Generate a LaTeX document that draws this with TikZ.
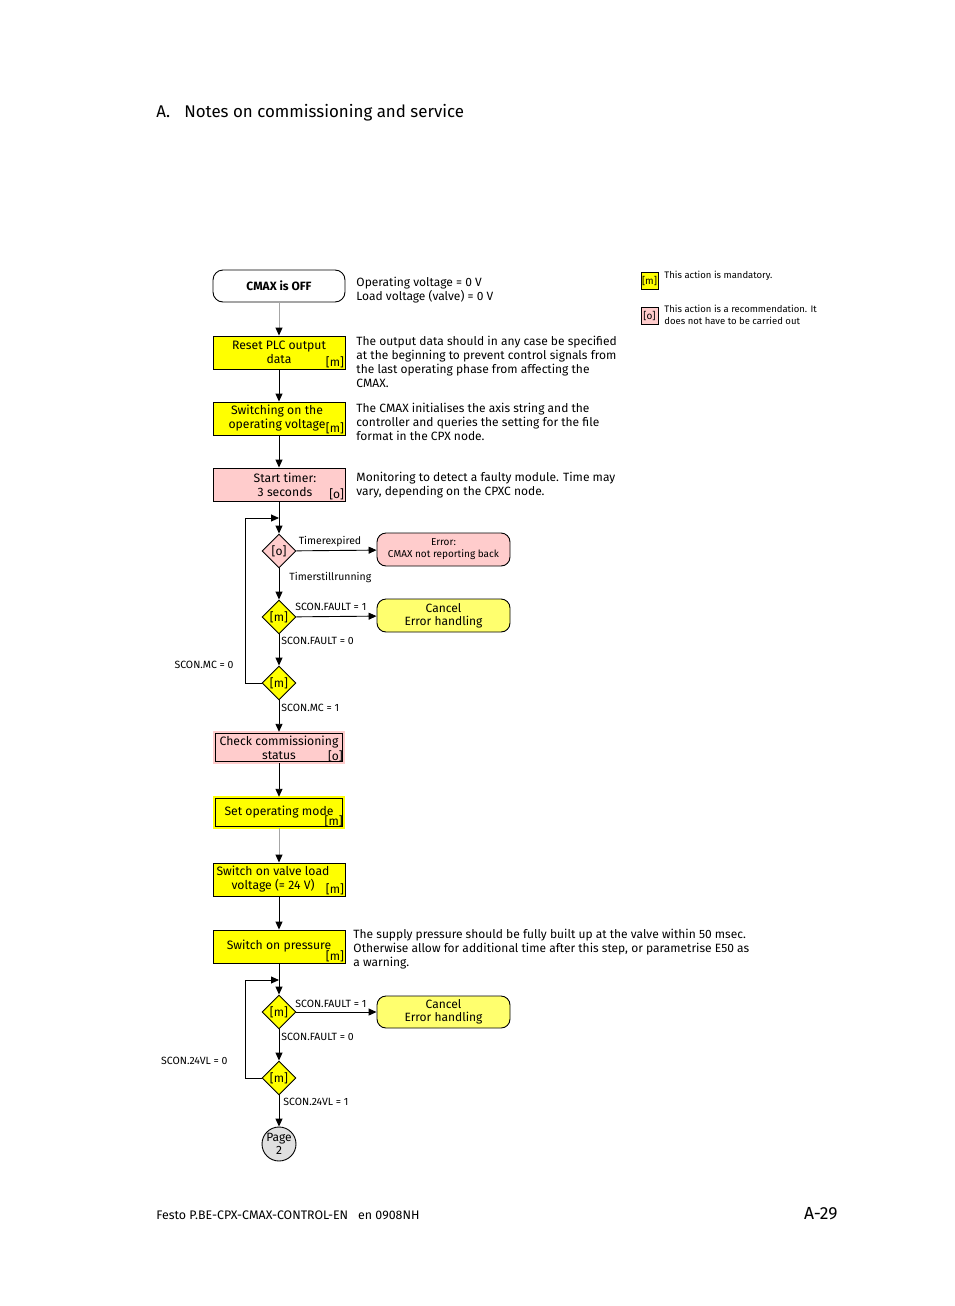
\documentclass[tikz,border=0pt]{standalone}
\usepackage{fontspec}
\setmainfont{Fira Sans}
\usepackage{xcolor}
\usetikzlibrary{arrows.meta,positioning,shapes.geometric}

\definecolor{mandyellow}{RGB}{255,255,0}
\definecolor{recpink}{RGB}{255,204,204}
\definecolor{endyellow}{RGB}{255,255,110}
\definecolor{pagegrey}{RGB}{224,224,224}

\begin{document}
\begin{tikzpicture}[
  x=1pt, y=-1pt, line width=0.9pt,
  stepnode/.style={rectangle, draw, minimum width=132pt, minimum height=33pt, inner sep=1pt, align=center, font=\fontsize{12.2}{14}\selectfont},
  tagnode/.style={anchor=south east, inner sep=1pt, font=\fontsize{12}{14}\selectfont},
  mandnode/.style={stepnode, fill=mandyellow, label={[tagnode]south east:{[m]}}},
  recnode/.style={stepnode, fill=recpink, label={[tagnode]south east:{[o]}}},
  dblnode/.style={double distance=1.6pt, minimum width=129.5pt, minimum height=30.5pt},
  decnode/.style={diamond, draw, minimum width=34pt, minimum height=34pt, inner sep=0pt, font=\fontsize{12}{14}\selectfont},
  endnode/.style={rectangle, rounded corners=9pt, draw, minimum width=133pt, minimum height=33pt, inner sep=1pt, align=center},
  notenode/.style={anchor=north west, align=left, inner sep=0pt, font=\fontsize{12}{14}\selectfont},
  condnode/.style={inner sep=1pt, font=\fontsize{10.5}{12}\selectfont},
  legnode/.style={anchor=north west, align=left, inner sep=0pt, font=\fontsize{9.5}{12}\selectfont},
  arrow/.style={-{Triangle[length=8pt,width=7pt]}},
  greyarrow/.style={draw=black!35, -{Triangle[length=8pt,width=7pt,color=black]}}
]
\useasboundingbox (0,0) rectangle (954,1306);

% header
\node[anchor=west, inner sep=0pt, font=\fontsize{16.9}{20}\selectfont] (title) at (156,113) {A.\hspace{14pt}Notes on commissioning and service};

% legend
\node[draw, fill=mandyellow, minimum size=17pt, inner sep=0pt, line width=0.7pt, font=\fontsize{10}{12}\selectfont] (legm) at (649.5,281) {[m]};
\node[legnode] (legmtxt) at (664,271) {This action is mandatory.};
\node[draw, fill=recpink, minimum size=17pt, inner sep=0pt, line width=0.7pt, font=\fontsize{10}{12}\selectfont] (lego) at (649.5,315.5) {[o]};
\node[legnode] (legotxt) at (664,305) {This action is a recommendation. It\\does not have to be carried out};

% steps
\node[stepnode, rounded corners=10pt, minimum height=32pt, font=\fontsize{12}{14}\selectfont\bfseries] (off) at (279,286) {CMAX is OFF};
\node[mandnode] (reset) at (279,352.5) {Reset PLC output\\data};
\node[mandnode] (opvolt) at (279,418.5) {Switching on the\kern4pt\\operating voltage\kern4pt};
\node[recnode] (timer) at (279,484.5) {\kern12pt Start timer:\\\kern12pt 3 seconds};

% notes
\node[notenode] (noteoff) at (356,277) {Operating voltage = 0 V\\Load voltage (valve) = 0 V};
\node[notenode] (notereset) at (356,336) {The output data should in any case be specified\\at the beginning to prevent control signals from\\the last operating phase from affecting the\\CMAX.};
\node[notenode] (noteopvolt) at (356,403) {The CMAX initialises the axis string and the\\controller and queries the setting for the file\\format in the CPX node.};
\node[notenode] (notetimer) at (356,472) {Monitoring to detect a faulty module. Time may\\vary, depending on the CPXC node.};

% first loop
\node[decnode, fill=recpink] (dtimer) at (279,551) {[o]};
\node[decnode, fill=mandyellow] (dfault) at (279,617) {[m]};
\node[decnode, fill=mandyellow] (dmc) at (279,683) {[m]};
\node[endnode, fill=recpink, font=\fontsize{10}{12}\selectfont] (errnode) at (443.5,549.5) {Error:\\CMAX not reporting back};
\node[endnode, fill=endyellow, font=\fontsize{12}{13}\selectfont] (cancela) at (443.5,615.5) {Cancel\\Error handling};
\coordinate (loopa) at (245,518);

% remaining steps
\node[recnode, dblnode, double=recpink] (check) at (279,747.5) {Check commissioning\\status};
\node[mandnode, dblnode, double=mandyellow] (opmode) at (279,812.5) {Set operating mode};
\node[mandnode] (valve) at (279,879.5) {Switch on valve load\kern12pt\\voltage (= 24 V)\kern12pt};
\node[mandnode] (press) at (279,946.5) {Switch on pressure};
\node[notenode] (notepress) at (353,929) {The supply pressure should be fully built up at the valve within 50 msec.\\Otherwise allow for additional time after this step, or parametrise E50 as\\a warning.};

% second loop
\node[decnode, fill=mandyellow] (dfaultb) at (279,1012) {[m]};
\node[decnode, fill=mandyellow] (dvl) at (279,1078) {[m]};
\node[endnode, fill=endyellow, minimum height=32pt, font=\fontsize{12}{13}\selectfont] (cancelb) at (443.5,1012) {Cancel\\Error handling};
\coordinate (loopb) at (245,980);
\node[circle, draw, fill=pagegrey, minimum size=34pt, inner sep=0pt, align=center, font=\fontsize{12}{13}\selectfont] (page) at (279,1144) {Page\\2};

% connectors
\draw[greyarrow] (off) -- (reset);
\draw[arrow] (reset) -- (opvolt);
\draw[arrow] (opvolt) -- (timer);
\draw[arrow] (timer) -- (dtimer);
\draw[arrow] (dtimer) -- node[condnode, above=2pt, pos=0.42] (lexp) {Timerexpired} (errnode);
\draw[arrow] (dtimer) -- node[condnode, right=9pt, pos=0.3] (lrun) {Timerstillrunning} (dfault);
\draw[arrow] (dfault) -- node[condnode, above=4pt, pos=0.43] (lfault1) {SCON.FAULT = 1} (cancela);
\draw[arrow] (dfault) -- node[condnode, right=1pt, pos=0.2] (lfault0) {SCON.FAULT = 0} (dmc);
\draw[arrow] (dmc.west) -- (dmc.west -| loopa) -- node[condnode, left=10pt, pos=0.11] (lmc0) {SCON.MC = 0} (loopa) -- (loopa -| dtimer);
\draw[arrow] (dmc) -- node[condnode, right=1pt, pos=0.23] (lmc1) {SCON.MC = 1} (check);
\draw[arrow] (check) -- (opmode);
\draw[greyarrow] (opmode) -- (valve);
\draw[arrow] (valve) -- (press);
\draw[arrow] (press) -- (dfaultb);
\draw[arrow] (dfaultb) -- node[condnode, above=3pt, pos=0.43] (lfaultb1) {SCON.FAULT = 1} (cancelb);
\draw[arrow] (dfaultb) -- node[condnode, right=1pt, pos=0.25] (lfaultb0) {SCON.FAULT = 0} (dvl);
\draw[arrow] (dvl.west) -- (dvl.west -| loopb) -- node[condnode, left=16pt, pos=0.17] (lvl0) {SCON.24VL = 0} (loopb) -- (loopb -| press);
\draw[arrow] (dvl) -- node[condnode, right=3pt, pos=0.22] (lvl1) {SCON.24VL = 1} (page);

% footer
\node[anchor=west, inner sep=0pt, font=\fontsize{12.4}{14}\selectfont] (foot) at (156,1215) {Festo P.BE-CPX-CMAX-CONTROL-EN\hspace{10pt}en 0908NH};
\node[anchor=east, inner sep=0pt, font=\fontsize{17.5}{20}\selectfont] (pgno) at (838,1214) {A-29};

\end{tikzpicture}
\end{document}
